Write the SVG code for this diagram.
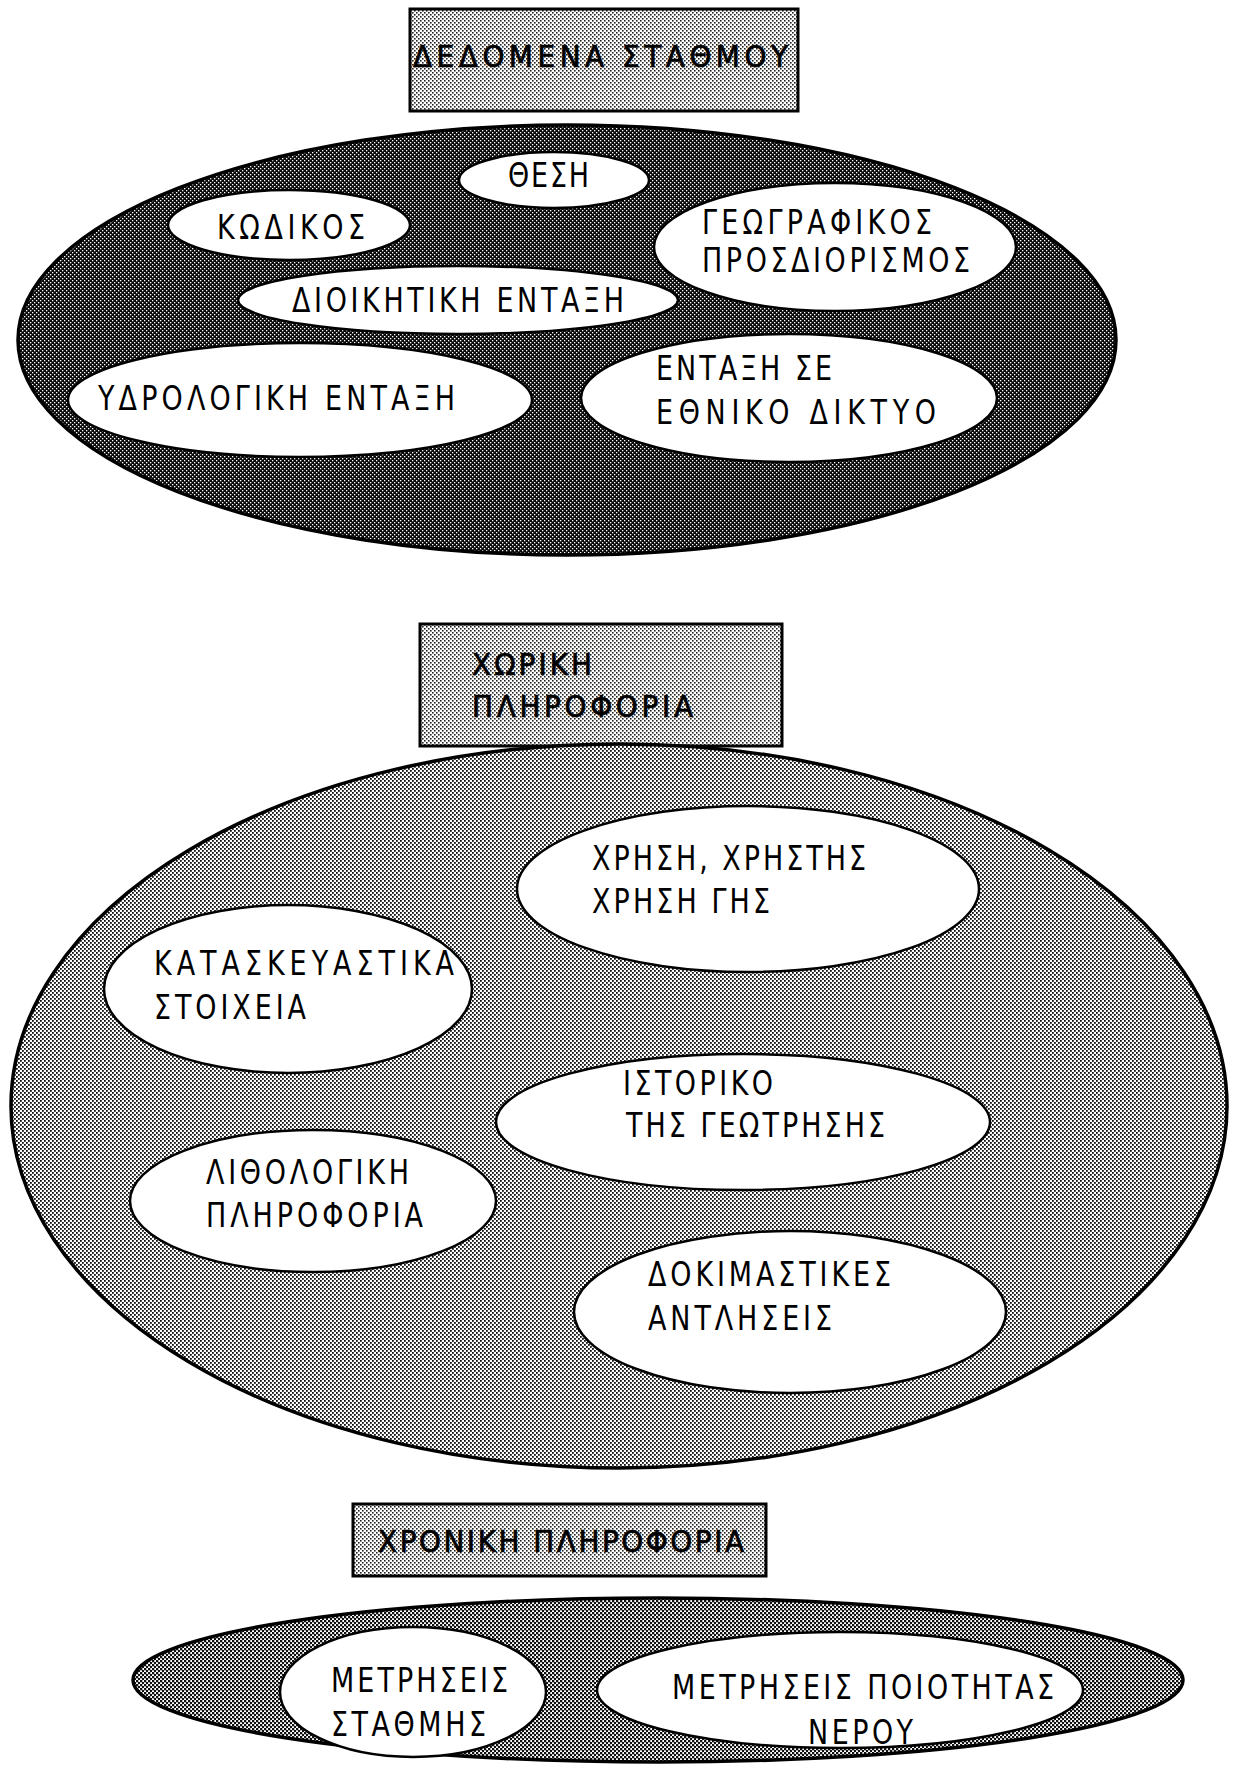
<svg xmlns="http://www.w3.org/2000/svg" width="1238" height="1768" viewBox="0 0 1238 1768">
  <style>
    .lbl { font-family: "DejaVu Sans Condensed", "Liberation Sans Narrow", "Liberation Sans", sans-serif; font-size: 34px; fill: #000; }
    .ttl { font-family: "DejaVu Sans Condensed", "Liberation Sans Narrow", "Liberation Sans", sans-serif; font-size: 31px; fill: #000; stroke: #000; stroke-width: 0.7; }
    .inner { fill: #fff; stroke: #000; stroke-width: 2.5; }
    .box { fill: url(#pLight); stroke: #000; stroke-width: 3; }
    .outer { stroke: #000; stroke-width: 3.5; }
  </style>
  <defs>
    <pattern id="pDark" patternUnits="userSpaceOnUse" x="0" y="0" width="4" height="4">
      <rect width="4" height="4" fill="#0a0a0a"/>
      <rect x="0" y="0" width="1.3" height="1.3" fill="#fff"/>
      <rect x="2" y="2" width="1.3" height="1.3" fill="#fff"/>
    </pattern>
    <pattern id="pMid" patternUnits="userSpaceOnUse" x="0" y="0" width="4" height="4">
      <rect width="4" height="4" fill="#fff"/>
      <rect x="0" y="0" width="1.8" height="1.8" fill="#111"/>
      <rect x="2" y="2" width="1.8" height="1.8" fill="#111"/>
    </pattern>
    <pattern id="pLight" patternUnits="userSpaceOnUse" x="0" y="0" width="4" height="4">
      <rect width="4" height="4" fill="#fff"/>
      <rect x="0" y="0" width="1.6" height="1.6" fill="#222"/>
      <rect x="2" y="2" width="1.6" height="1.6" fill="#222"/>
    </pattern>
    <pattern id="pBottom" patternUnits="userSpaceOnUse" x="0" y="0" width="4" height="4">
      <rect width="4" height="4" fill="#fff"/>
      <rect x="0" y="0" width="2.3" height="2.3" fill="#111"/>
      <rect x="2" y="2" width="2.3" height="2.3" fill="#111"/>
    </pattern>
  </defs>
  <rect width="1238" height="1768" fill="#fff"/>

  <!-- Section 1 -->
  <g id="station-data">
    <rect class="box" x="410" y="9" width="388" height="102"/>
    <text class="ttl" x="413" y="67" textLength="375" lengthAdjust="spacing">ΔΕΔΟΜΕΝΑ ΣΤΑΘΜΟΥ</text>
  </g>
  <g id="station-data-set">
    <ellipse class="outer" cx="567" cy="340" rx="549" ry="215" fill="url(#pDark)"/>
  </g>
  <g id="thesi">
    <ellipse class="inner" cx="554" cy="180" rx="95" ry="28"/>
    <g transform="scale(0.88,1)">
      <text class="lbl" x="577.27" y="187" textLength="92.05" lengthAdjust="spacing">ΘΕΣΗ</text>
    </g>
  </g>
  <g id="kodikos">
    <ellipse class="inner" cx="289" cy="225" rx="121" ry="35"/>
    <g transform="scale(0.88,1)">
      <text class="lbl" x="246.59" y="239" textLength="168.18" lengthAdjust="spacing">ΚΩΔΙΚΟΣ</text>
    </g>
  </g>
  <g id="geografikos">
    <ellipse class="inner" cx="835" cy="247" rx="181" ry="64"/>
    <g transform="scale(0.88,1)">
      <text class="lbl" x="797.73" y="234" textLength="261.36" lengthAdjust="spacing">ΓΕΩΓΡΑΦΙΚΟΣ</text>
      <text class="lbl" x="797.73" y="272" textLength="304.55" lengthAdjust="spacing">ΠΡΟΣΔΙΟΡΙΣΜΟΣ</text>
    </g>
  </g>
  <g id="dioikitiki">
    <ellipse class="inner" cx="458" cy="300" rx="220" ry="34"/>
    <g transform="scale(0.88,1)">
      <text class="lbl" x="331.82" y="312" textLength="377.27" lengthAdjust="spacing">ΔΙΟΙΚΗΤΙΚΗ ΕΝΤΑΞΗ</text>
    </g>
  </g>
  <g id="ydrologiki">
    <ellipse class="inner" cx="300" cy="400" rx="232" ry="57"/>
    <g transform="scale(0.88,1)">
      <text class="lbl" x="111.36" y="410" textLength="405.68" lengthAdjust="spacing">ΥΔΡΟΛΟΓΙΚΗ  ΕΝΤΑΞΗ</text>
    </g>
  </g>
  <g id="ethniko">
    <ellipse class="inner" cx="789" cy="398" rx="208" ry="64"/>
    <g transform="scale(0.88,1)">
      <text class="lbl" x="745.45" y="380" textLength="200" lengthAdjust="spacing">ΕΝΤΑΞΗ ΣΕ</text>
      <text class="lbl" x="745.45" y="424" textLength="318.18" lengthAdjust="spacing">ΕΘΝΙΚΟ ΔΙΚΤΥΟ</text>
    </g>
  </g>

  <!-- Section 2 -->
  <g id="spatial-info">
    <rect class="box" x="420" y="624" width="362" height="122"/>
    <text class="ttl" x="472" y="675" textLength="120" lengthAdjust="spacing">ΧΩΡΙΚΗ</text>
    <text class="ttl" x="472" y="717" textLength="221" lengthAdjust="spacing">ΠΛΗΡΟΦΟΡΙΑ</text>
  </g>
  <g id="spatial-info-set">
    <ellipse class="outer" cx="619" cy="1106" rx="608" ry="362" fill="url(#pMid)"/>
  </g>
  <g id="xrisi">
    <ellipse class="inner" cx="748" cy="889" rx="231" ry="83"/>
    <g transform="scale(0.88,1)">
      <text class="lbl" x="672.73" y="870" textLength="311.36" lengthAdjust="spacing">ΧΡΗΣΗ, ΧΡΗΣΤΗΣ</text>
      <text class="lbl" x="672.73" y="913" textLength="202.27" lengthAdjust="spacing">ΧΡΗΣΗ ΓΗΣ</text>
    </g>
  </g>
  <g id="kataskevastika">
    <ellipse class="inner" cx="288" cy="989" rx="184" ry="84"/>
    <g transform="scale(0.88,1)">
      <text class="lbl" x="175" y="975" textLength="340.91" lengthAdjust="spacing">ΚΑΤΑΣΚΕΥΑΣΤΙΚΑ</text>
      <text class="lbl" x="175" y="1019" textLength="172.73" lengthAdjust="spacing">ΣΤΟΙΧΕΙΑ</text>
    </g>
  </g>
  <g id="istoriko">
    <ellipse class="inner" cx="743" cy="1122" rx="247" ry="68"/>
    <g transform="scale(0.88,1)">
      <text class="lbl" x="707.95" y="1095" textLength="170.45" lengthAdjust="spacing">ΙΣΤΟΡΙΚΟ</text>
      <text class="lbl" x="711.36" y="1137" textLength="294.32" lengthAdjust="spacing">ΤΗΣ ΓΕΩΤΡΗΣΗΣ</text>
    </g>
  </g>
  <g id="lithologiki">
    <ellipse class="inner" cx="313" cy="1201" rx="183" ry="71"/>
    <g transform="scale(0.88,1)">
      <text class="lbl" x="234.09" y="1184" textLength="230.68" lengthAdjust="spacing">ΛΙΘΟΛΟΓΙΚΗ</text>
      <text class="lbl" x="234.09" y="1227" textLength="246.59" lengthAdjust="spacing">ΠΛΗΡΟΦΟΡΙΑ</text>
    </g>
  </g>
  <g id="dokimastikes">
    <ellipse class="inner" cx="790" cy="1312" rx="216" ry="81"/>
    <g transform="scale(0.88,1)">
      <text class="lbl" x="736.36" y="1286" textLength="276.14" lengthAdjust="spacing">ΔΟΚΙΜΑΣΤΙΚΕΣ</text>
      <text class="lbl" x="736.36" y="1330" textLength="209.09" lengthAdjust="spacing">ΑΝΤΛΗΣΕΙΣ</text>
    </g>
  </g>

  <!-- Section 3 -->
  <g id="temporal-info">
    <rect class="box" x="353" y="1504" width="413" height="72"/>
    <text class="ttl" x="378" y="1552" textLength="366" lengthAdjust="spacing">ΧΡΟΝΙΚΗ ΠΛΗΡΟΦΟΡΙΑ</text>
  </g>
  <g id="temporal-info-set">
    <ellipse class="outer" cx="658" cy="1680" rx="525" ry="82" fill="url(#pBottom)"/>
  </g>
  <g id="metriseis-stathmis">
    <ellipse class="inner" cx="413" cy="1692" rx="133" ry="65"/>
    <g transform="scale(0.88,1)">
      <text class="lbl" x="376.14" y="1692" textLength="201.14" lengthAdjust="spacing">ΜΕΤΡΗΣΕΙΣ</text>
      <text class="lbl" x="376.14" y="1736" textLength="176.14" lengthAdjust="spacing">ΣΤΑΘΜΗΣ</text>
    </g>
  </g>
  <g id="metriseis-poiotitas">
    <ellipse class="inner" cx="840" cy="1690" rx="243" ry="58"/>
    <g transform="scale(0.88,1)">
      <text class="lbl" x="763.64" y="1699" textLength="434.09" lengthAdjust="spacing">ΜΕΤΡΗΣΕΙΣ ΠΟΙΟΤΗΤΑΣ</text>
      <text class="lbl" x="918.18" y="1744" textLength="119.32" lengthAdjust="spacing">ΝΕΡΟΥ</text>
    </g>
  </g>

  <g id="connectors"/>
</svg>
